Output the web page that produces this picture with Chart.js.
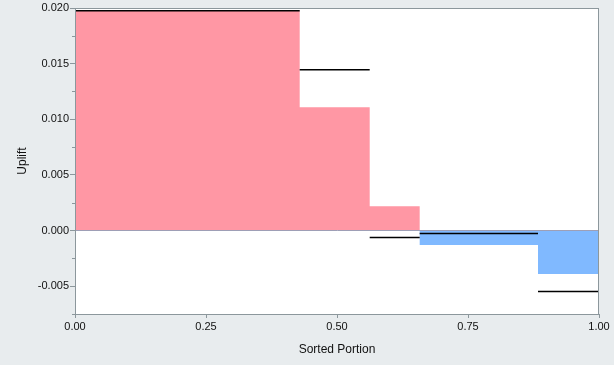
<!DOCTYPE html>
<html>
<head>
<meta charset="utf-8">
<script src="https://cdn.jsdelivr.net/npm/chart.js@4"></script>
<style>
  html, body { margin: 0; padding: 0; background: #e8ecee; }
  #wrap { width: 614px; height: 365px; }
</style>
</head>
<body>
<div id="wrap"><canvas id="uplift"></canvas></div>
<script>
// bin edges along sorted portion, uplift per bin, and the black reference line per bin
var edges = [0, 0.4288, 0.5624, 0.6578, 0.8836, 1.0];
var uplift = [0.0198, 0.01107, 0.00218, -0.00129, -0.0039];
var refLine = [0.01975, 0.01445, -0.00063, -0.00027, -0.00548];
var xTicks = [0, 0.25, 0.5, 0.75, 1.0];
var yTicks = [-0.005, 0, 0.005, 0.01, 0.015, 0.02];
var yMinor = [-0.0075, -0.0025, 0.0025, 0.0075, 0.0125, 0.0175];

var axisGray = '#8c979c';

// stepped area: one point per left edge, plus the closing edge
var areaPts = [];
for (var i = 0; i < uplift.length; i++) {
  areaPts.push({x: edges[i], y: uplift[i]});
}
areaPts.push({x: edges[edges.length - 1], y: uplift[uplift.length - 1]});

// separate horizontal segments, broken with nulls
var linePts = [];
for (var j = 0; j < refLine.length; j++) {
  linePts.push({x: edges[j], y: refLine[j]});
  linePts.push({x: edges[j + 1], y: refLine[j]});
  linePts.push({x: edges[j + 1], y: null});
}

var boxPlugin = {
  id: 'box',
  beforeDraw: function(chart) {
    var a = chart.chartArea, c = chart.ctx;
    c.save();
    c.fillStyle = '#ffffff';
    c.fillRect(a.left, a.top, a.right - a.left, a.bottom - a.top);
    c.restore();
  },
  afterDraw: function(chart) {
    var a = chart.chartArea, c = chart.ctx, ys = chart.scales.y;
    c.save();
    c.strokeStyle = axisGray;
    c.lineWidth = 1;
    c.strokeRect(Math.round(a.left) + 0.5, Math.round(a.top) + 0.5,
      Math.round(a.right - a.left) - 1, Math.round(a.bottom - a.top));
    // minor ticks on y between labelled ones
    yMinor.forEach(function(v) {
      var py = Math.round(ys.getPixelForValue(v)) + 0.5;
      c.beginPath();
      c.moveTo(a.left - 3, py);
      c.lineTo(a.left, py);
      c.stroke();
    });
    c.restore();
  }
};

var ctx = document.getElementById('uplift').getContext('2d');
new Chart(ctx, {
  type: 'line',
  data: {
    datasets: [
      {
        data: linePts,
        borderColor: '#000000',
        borderWidth: 1.5,
        pointRadius: 0,
        spanGaps: false,
        fill: false
      },
      {
        data: areaPts,
        stepped: 'before',
        borderColor: 'rgba(0,0,0,0)',
        borderWidth: 0,
        pointRadius: 0,
        fill: {target: 'origin', above: '#ff97a4', below: '#80b9ff'}
      }
    ]
  },
  options: {
    responsive: true,
    maintainAspectRatio: false,
    animation: false,
    layout: {padding: {top: 8, right: 15, left: 0, bottom: 0}},
    plugins: {legend: {display: false}, tooltip: {enabled: false}},
    scales: {
      x: {
        type: 'linear',
        min: 0,
        max: 1,
        afterBuildTicks: function(s) { s.ticks = xTicks.map(function(v) { return {value: v}; }); },
        afterFit: function(s) { s.height = 51; },
        ticks: {
          color: '#111',
          font: {family: 'Liberation Sans, Arial', size: 11},
          padding: 2,
          maxRotation: 0,
          callback: function(v) { return Number(v).toFixed(2); }
        },
        grid: {drawOnChartArea: false, tickLength: 4, tickColor: axisGray},
        border: {color: axisGray},
        title: {
          display: true,
          text: 'Sorted Portion',
          color: '#111',
          font: {family: 'Liberation Sans, Arial', size: 12},
          padding: {top: 0, bottom: 8}
        }
      },
      y: {
        min: -0.0075,
        max: 0.02,
        afterBuildTicks: function(s) { s.ticks = yTicks.map(function(v) { return {value: v}; }); },
        afterFit: function(s) { s.width = 75; },
        ticks: {
          color: '#111',
          font: {family: 'Liberation Sans, Arial', size: 11},
          padding: 1,
          callback: function(v) { return Number(v).toFixed(3); }
        },
        grid: {
          tickLength: 5,
          tickColor: axisGray,
          color: function(c) { return c.tick && Math.abs(c.tick.value) < 1e-9 ? axisGray : 'rgba(0,0,0,0)'; }
        },
        border: {color: axisGray},
        title: {
          display: true,
          text: 'Uplift',
          color: '#111',
          font: {family: 'Liberation Sans, Arial', size: 12},
          padding: {top: 15, bottom: 0}
        }
      }
    }
  },
  plugins: [boxPlugin]
});
</script>
</body>
</html>
